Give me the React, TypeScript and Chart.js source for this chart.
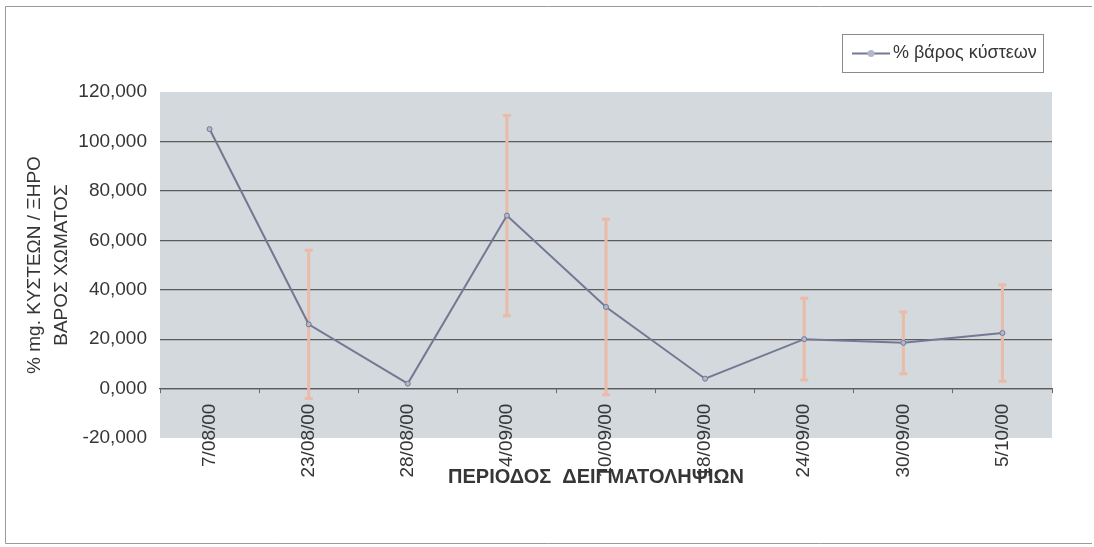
import React, { useEffect, useRef } from 'react';
import { Chart, registerables } from 'chart.js';

Chart.register(...registerables);

const categories = ['7/08/00', '23/08/00', '28/08/00', '4/09/00', '10/09/00', '18/09/00', '24/09/00', '30/09/00', '5/10/00'];
const values = [105, 26, 2, 70, 33, 4, 20, 18.5, 22.5];
const errors = [0, 30, 0, 40.5, 35.5, 0, 16.5, 12.5, 19.5];
const yTicks = [-20, 0, 20, 40, 60, 80, 100, 120];
const seriesLabel = '% βάρος κύστεων';
const yTitle = ['% mg. ΚΥΣΤΕΩΝ / ΞΗΡΟ', 'ΒΑΡΟΣ ΧΩΜΑΤΟΣ'];
const xTitle = 'ΠΕΡΙΟΔΟΣ  ΔΕΙΓΜΑΤΟΛΗΨΙΩΝ';

const FONT = "'Liberation Sans', Arial, sans-serif";
const TEXT = '#363636';
const LINE = '#737894';
const ERR = '#e9bba8';

const bgPlugin = {
  id: 'plotBg',
  beforeDraw(chart: any) {
    const { ctx, chartArea: a, width, height } = chart;
    ctx.save();
    ctx.fillStyle = '#ffffff';
    ctx.fillRect(0, 0, width, height);
    ctx.fillStyle = '#d3d9dc';
    ctx.fillRect(a.left, a.top, a.right - a.left, a.bottom - a.top);
    ctx.strokeStyle = '#9a9a9a';
    ctx.lineWidth = 1;
    ctx.beginPath();
    ctx.moveTo(5.5, height - 3.5);
    ctx.lineTo(5.5, 6.5);
    ctx.lineTo(width - 2, 6.5);
    ctx.moveTo(5.5, height - 3.5);
    ctx.lineTo(width - 2, height - 3.5);
    ctx.stroke();
    ctx.restore();
  },
};

const errorBarPlugin = {
  id: 'errorBars',
  beforeDatasetsDraw(chart: any) {
    const { ctx } = chart;
    const xs = chart.scales.x;
    const ys = chart.scales.y;
    ctx.save();
    ctx.strokeStyle = ERR;
    ctx.lineWidth = 3;
    values.forEach((v, i) => {
      const e = errors[i];
      if (!e) return;
      const x = xs.getPixelForValue(i);
      const yTop = ys.getPixelForValue(v + e);
      const yBot = ys.getPixelForValue(v - e);
      ctx.beginPath();
      ctx.moveTo(x, yTop);
      ctx.lineTo(x, yBot);
      ctx.moveTo(x - 4, yTop);
      ctx.lineTo(x + 4, yTop);
      ctx.moveTo(x - 4, yBot);
      ctx.lineTo(x + 4, yBot);
      ctx.stroke();
    });
    ctx.restore();
  },
};

const textPlugin = {
  id: 'extraText',
  afterDraw(chart: any) {
    const { ctx, chartArea: a } = chart;
    ctx.save();
    // x axis title
    ctx.fillStyle = TEXT;
    ctx.font = `bold 20px ${FONT}`;
    ctx.textAlign = 'center';
    ctx.textBaseline = 'middle';
    ctx.fillText(xTitle, (a.left + a.right) / 2 - 10, a.bottom + 39);
    // legend
    const boxRight = a.right - 9;
    const boxLeft = boxRight - 201;
    const boxTop = 34.5;
    const boxBottom = 72.5;
    const cy = (boxTop + boxBottom) / 2;
    ctx.fillStyle = '#ffffff';
    ctx.fillRect(boxLeft, boxTop, boxRight - boxLeft, boxBottom - boxTop);
    ctx.strokeStyle = '#8a8a8a';
    ctx.lineWidth = 1;
    ctx.strokeRect(Math.round(boxLeft) + 0.5, boxTop, boxRight - boxLeft, boxBottom - boxTop);
    ctx.strokeStyle = LINE;
    ctx.lineWidth = 2;
    ctx.beginPath();
    ctx.moveTo(boxLeft + 10, cy);
    ctx.lineTo(boxLeft + 48, cy);
    ctx.stroke();
    ctx.fillStyle = '#b4b8cc';
    ctx.beginPath();
    ctx.arc(boxLeft + 29, cy, 3.5, 0, Math.PI * 2);
    ctx.fill();
    ctx.fillStyle = TEXT;
    ctx.font = `18px ${FONT}`;
    ctx.textAlign = 'left';
    ctx.fillText(seriesLabel, boxLeft + 51, cy);
    ctx.restore();
  },
};

export default function App() {
  const ref = useRef<HTMLCanvasElement | null>(null);

  useEffect(() => {
    if (!ref.current) return;
    const chart = new Chart(ref.current, {
      type: 'line',
      data: {
        labels: categories,
        datasets: [
          {
            label: seriesLabel,
            data: values,
            borderColor: LINE,
            borderWidth: 2,
            pointRadius: 2.5,
            pointBackgroundColor: '#b4b8cc',
            pointBorderColor: LINE,
            pointBorderWidth: 1,
            tension: 0,
            fill: false,
          },
        ],
      },
      options: {
        responsive: false,
        animation: false,
        layout: { padding: { left: 0, top: 92, right: 42, bottom: 109 } },
        plugins: {
          legend: { display: false },
          tooltip: { enabled: false },
        },
        scales: {
          x: {
            type: 'category',
            position: { y: 0 } as any,
            offset: true,
            grid: {
              display: true,
              drawOnChartArea: false,
              drawTicks: true,
              tickLength: 4,
              color: '#6a6a6a',
              offset: true,
            },
            border: { display: true, color: '#5c5c5c', width: 1.2 },
            ticks: {
              autoSkip: false,
              minRotation: 90,
              maxRotation: 90,
              padding: 11,
              color: TEXT,
              font: { family: FONT, size: 19 },
            },
          },
          y: {
            min: yTicks[0],
            max: yTicks[yTicks.length - 1],
            afterFit(scale: any) {
              scale.width = 160;
            },
            ticks: {
              stepSize: yTicks[1] - yTicks[0],
              padding: 13,
              color: TEXT,
              font: { family: FONT, size: 19 },
              callback: (v: any) => Number(v).toFixed(3).replace('.', ','),
            },
            grid: {
              drawTicks: false,
              lineWidth: 1.2,
              color: (c: any) =>
                c.tick && (c.tick.value === yTicks[0] || c.tick.value === yTicks[yTicks.length - 1])
                  ? 'rgba(0,0,0,0)'
                  : '#5c5c5c',
            },
            border: { display: false },
            title: {
              display: true,
              text: yTitle,
              color: TEXT,
              font: { family: FONT, size: 19, lineHeight: 1.42 },
              padding: { top: 21, bottom: 0 },
            },
          },
        },
      },
      plugins: [bgPlugin, errorBarPlugin, textPlugin],
    });
    return () => chart.destroy();
  }, []);

  return (
    <div style={{ position: 'fixed', left: 0, top: 0, width: 1094, height: 547, background: '#fff' }}>
      <canvas ref={ref} width={1094} height={547} style={{ display: 'block' }} />
    </div>
  );
}
